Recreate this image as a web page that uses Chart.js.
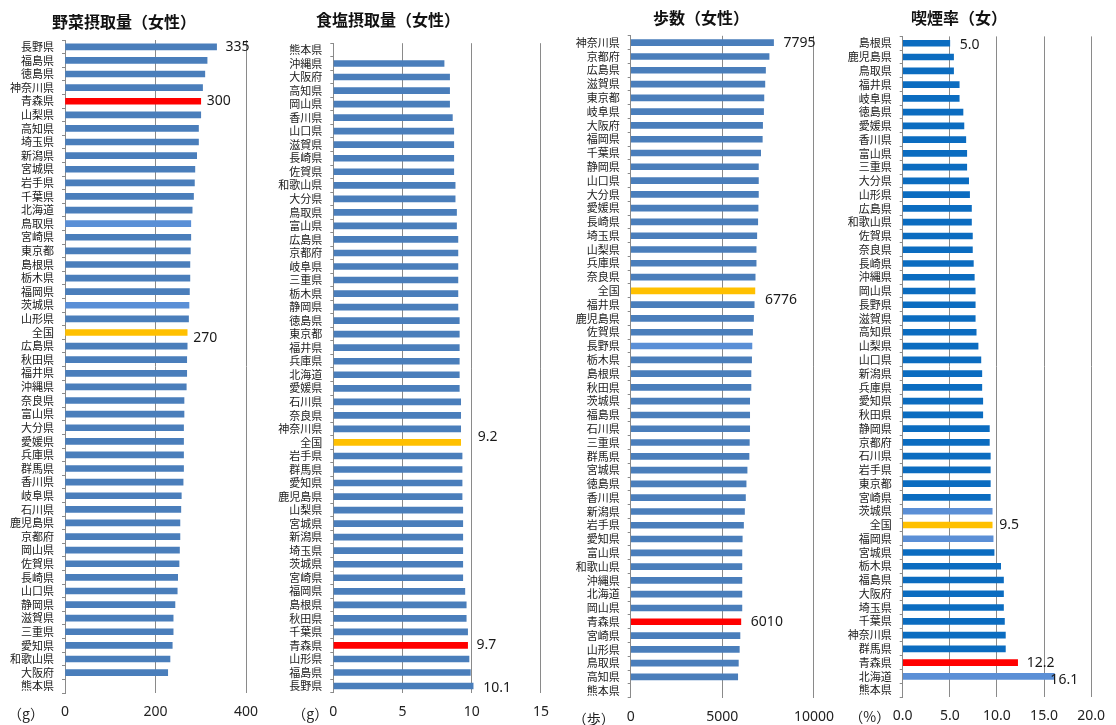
<!DOCTYPE html>
<html lang="ja">
<head>
<meta charset="utf-8">
<title>女性の健康指標 都道府県別</title>
<script src="https://cdn.jsdelivr.net/npm/chart.js@4"></script>
<style>
html, body { margin: 0; padding: 0; background: #fff; }
#wrap { position: relative; width: 1116px; height: 725px; overflow: hidden; background: #fff; }
#wrap canvas { position: absolute; top: 0; }
</style>
</head>
<body>
<div id="wrap">
  <canvas id="veg" width="275" height="725" style="left:0px"></canvas>
  <canvas id="salt" width="285" height="725" style="left:275px"></canvas>
  <canvas id="step" width="285" height="725" style="left:560px"></canvas>
  <canvas id="smoke" width="271" height="725" style="left:845px"></canvas>
</div>
<script>
// 野菜摂取量（女性, g/日）
const vegPrefs = ['長野県','福島県','徳島県','神奈川県','青森県','山梨県','高知県','埼玉県','新潟県','宮城県','岩手県','千葉県','北海道','鳥取県','宮崎県','東京都','島根県','栃木県','福岡県','茨城県','山形県','全国','広島県','秋田県','福井県','沖縄県','奈良県','富山県','大分県','愛媛県','兵庫県','群馬県','香川県','岐阜県','石川県','鹿児島県','京都府','岡山県','佐賀県','長崎県','山口県','静岡県','滋賀県','三重県','愛知県','和歌山県','大阪府','熊本県'];
const vegValues = [335,314,309,304,300,300,295,295,291,287,286,284,281,278,278,277,276,276,275,274,273,270,270,269,269,268,263,263,262,262,262,262,261,257,256,254,254,253,252,249,248,243,239,239,237,232,227,null];
const vegTicks = [0, 200, 400];

// 食塩摂取量（女性, g/日）
const saltPrefs = ['熊本県','沖縄県','大阪府','高知県','岡山県','香川県','山口県','滋賀県','長崎県','佐賀県','和歌山県','大分県','鳥取県','富山県','広島県','京都府','岐阜県','三重県','栃木県','静岡県','徳島県','東京都','福井県','兵庫県','北海道','愛媛県','石川県','奈良県','神奈川県','全国','岩手県','群馬県','愛知県','鹿児島県','山梨県','宮城県','新潟県','埼玉県','茨城県','宮崎県','福岡県','島根県','秋田県','千葉県','青森県','山形県','福島県','長野県'];
const saltValues = [null,8.0,8.4,8.4,8.4,8.6,8.7,8.7,8.7,8.7,8.8,8.8,8.9,8.9,9.0,9.0,9.0,9.0,9.0,9.0,9.1,9.1,9.1,9.1,9.1,9.1,9.2,9.2,9.2,9.2,9.3,9.3,9.3,9.3,9.35,9.35,9.35,9.35,9.35,9.35,9.5,9.6,9.6,9.7,9.7,9.8,9.9,10.1];
const saltTicks = [0, 5, 10, 15];

// 歩数（女性, 歩/日）
const stepPrefs = ['神奈川県','京都府','広島県','滋賀県','東京都','岐阜県','大阪府','福岡県','千葉県','静岡県','山口県','大分県','愛媛県','長崎県','埼玉県','山梨県','兵庫県','奈良県','全国','福井県','鹿児島県','佐賀県','長野県','栃木県','島根県','秋田県','茨城県','福島県','石川県','三重県','群馬県','宮城県','徳島県','香川県','新潟県','岩手県','愛知県','富山県','和歌山県','沖縄県','北海道','岡山県','青森県','宮崎県','山形県','鳥取県','高知県','熊本県'];
const stepValues = [7795,7550,7356,7321,7268,7250,7197,7180,7091,6968,6968,6968,6950,6932,6880,6844,6844,6791,6776,6738,6703,6650,6615,6597,6562,6562,6492,6492,6492,6474,6456,6350,6297,6262,6209,6156,6086,6068,6068,6068,6068,6068,6010,5962,5927,5874,5839,null];
const stepTicks = [0, 5000, 10000];

// 喫煙率（女, %）
const smokePrefs = ['島根県','鹿児島県','鳥取県','福井県','岐阜県','徳島県','愛媛県','香川県','富山県','三重県','大分県','山形県','広島県','和歌山県','佐賀県','奈良県','長崎県','沖縄県','岡山県','長野県','滋賀県','高知県','山梨県','山口県','新潟県','兵庫県','愛知県','秋田県','静岡県','京都府','石川県','岩手県','東京都','宮崎県','茨城県','全国','福岡県','宮城県','栃木県','福島県','大阪府','埼玉県','千葉県','神奈川県','群馬県','青森県','北海道','熊本県'];
const smokeValues = [5.0,5.4,5.4,6.0,6.0,6.4,6.5,6.7,6.8,6.8,7.0,7.1,7.3,7.3,7.4,7.4,7.5,7.6,7.7,7.7,7.7,7.8,8.0,8.3,8.4,8.4,8.5,8.5,9.2,9.2,9.3,9.3,9.3,9.3,9.5,9.5,9.6,9.7,10.4,10.7,10.7,10.7,10.8,10.9,10.9,12.2,16.1,null];
const smokeTicks = [0, 5, 10, 15, 20];

const CJK = '"Noto Sans CJK JP", "Noto Sans", sans-serif';
const LATIN = '"Noto Sans", "Liberation Sans", sans-serif';
const PAGE_H = 725;

// One horizontal bar panel per indicator
function makePanel(p) {
  const canvas = document.getElementById(p.id);
  const canvasLeft = parseFloat(canvas.style.left);

  const barColor = (name) => {
    if (name === '全国') return '#FFC000';
    if (name === '青森県') return '#FF0000';
    if (p.lightBars.includes(name)) return p.lightColor;
    return p.color;
  };

  const annotate = {
    id: 'annotate_' + p.id,
    afterDatasetsDraw(chart) {
      const ctx = chart.ctx;
      const meta = chart.getDatasetMeta(0);
      const values = chart.data.datasets[0].data;
      const area = chart.chartArea;
      ctx.save();
      // value tags next to the highlighted bars
      ctx.font = '14px ' + LATIN;
      ctx.fillStyle = '#1a1a1a';
      ctx.textAlign = 'left';
      ctx.textBaseline = 'middle';
      for (const tag of p.tags) {
        const i = chart.data.labels.indexOf(tag.name);
        const bar = meta.data[i];
        ctx.fillText(p.format(values[i]), bar.x + tag.dx, bar.y + tag.dy);
      }
      // panel title
      ctx.font = 'bold 16px ' + CJK;
      ctx.fillStyle = '#111';
      ctx.textAlign = 'center';
      ctx.fillText(p.title, p.titleX - canvasLeft, p.titleY);
      // unit under the axis
      ctx.font = '14px ' + CJK;
      ctx.fillStyle = '#222';
      ctx.fillText(p.unit, area.left + p.unitDx, area.bottom + p.unitDy);
      ctx.restore();
    }
  };

  return new Chart(canvas, {
    type: 'bar',
    data: {
      labels: p.labels,
      datasets: [{
        data: p.values,
        backgroundColor: (c) => barColor(p.labels[c.dataIndex]),
        borderWidth: 0,
        barThickness: 6
      }]
    },
    options: {
      indexAxis: 'y',
      responsive: false,
      animation: false,
      devicePixelRatio: 1,
      layout: { padding: { top: p.plotTop, right: p.padRight, bottom: 0, left: 0 } },
      plugins: { legend: { display: false }, tooltip: { enabled: false }, title: { display: false } },
      scales: {
        x: {
          type: 'linear',
          min: p.ticks[0],
          max: p.ticks[p.ticks.length - 1],
          afterBuildTicks: (s) => { s.ticks = p.ticks.map(v => ({ value: v })); },
          afterFit: (s) => { s.height = PAGE_H - p.plotBottom; },
          border: { display: false },
          grid: { color: '#8a8a8a', lineWidth: 1, drawTicks: false },
          ticks: {
            padding: 11,
            color: '#222',
            font: { family: LATIN, size: 14 },
            callback: (v) => p.tickFormat(v)
          }
        },
        y: {
          afterFit: (s) => { s.width = p.axisWidth; },
          border: { display: true, color: '#8a8a8a', width: 1 },
          grid: { drawOnChartArea: false, drawTicks: true, tickLength: 3, color: '#8a8a8a', offset: true },
          ticks: {
            autoSkip: false,
            padding: 8,
            color: '#1a1a1a',
            font: { family: CJK, size: 11 }
          }
        }
      }
    },
    plugins: [annotate]
  });
}

function drawAll() {
  makePanel({
    id: 'veg', title: '野菜摂取量（女性）', titleX: 124, titleY: 22,
    labels: vegPrefs, values: vegValues, ticks: vegTicks,
    plotTop: 40, plotBottom: 693, axisWidth: 65, padRight: 29,
    color: '#4A7EBB', lightColor: '#5A8FD6', lightBars: ['鳥取県', '茨城県'],
    format: (v) => String(Math.round(v)), tickFormat: (v) => String(v),
    unit: '（g）', unitDx: -39, unitDy: 21,
    tags: [{ name: '長野県', dx: 9, dy: 0 }, { name: '青森県', dx: 6, dy: 0 }, { name: '全国', dx: 6, dy: 6 }]
  });
  makePanel({
    id: 'salt', title: '食塩摂取量（女性）', titleX: 388, titleY: 20,
    labels: saltPrefs, values: saltValues, ticks: saltTicks,
    plotTop: 43.2, plotBottom: 692.8, axisWidth: 58.3, padRight: 13.3,
    color: '#4A7EBB', lightColor: '#5A8FD6', lightBars: [],
    format: (v) => v.toFixed(1), tickFormat: (v) => String(v),
    unit: '（g）', unitDx: -23, unitDy: 21,
    tags: [{ name: '全国', dx: 17, dy: -5 }, { name: '青森県', dx: 9, dy: 0 }, { name: '長野県', dx: 10, dy: 2 }]
  });
  makePanel({
    id: 'step', title: '歩数（女性）', titleX: 701, titleY: 18,
    labels: stepPrefs, values: stepValues, ticks: stepTicks,
    plotTop: 35.8, plotBottom: 697.6, axisWidth: 70.7, padRight: 25,
    color: '#4A7EBB', lightColor: '#5A8FD6', lightBars: ['長野県'],
    format: (v) => String(Math.round(v)), tickFormat: (v) => String(v),
    unit: '（歩）', unitDx: -37, unitDy: 21,
    tags: [{ name: '神奈川県', dx: 10, dy: 0 }, { name: '全国', dx: 10, dy: 9 }, { name: '青森県', dx: 10, dy: 0 }]
  });
  makePanel({
    id: 'smoke', title: '喫煙率（女）', titleX: 959, titleY: 18,
    labels: smokePrefs, values: smokeValues, ticks: smokeTicks,
    plotTop: 36.4, plotBottom: 697, axisWidth: 57.7, padRight: 17.3,
    color: '#0B6CC0', lightColor: '#5B8FD6', lightBars: ['茨城県', '福岡県', '北海道'],
    format: (v) => v.toFixed(1), tickFormat: (v) => v.toFixed(1),
    unit: '（%）', unitDx: -33, unitDy: 20,
    tags: [{ name: '島根県', dx: 10, dy: 1.5 }, { name: '全国', dx: 7, dy: 0 }, { name: '青森県', dx: 9, dy: 0 }, { name: '北海道', dx: -4, dy: 4 }]
  });
}

const fontReady = (document.fonts && document.fonts.load)
  ? Promise.all([
      document.fonts.load('11px "Noto Sans CJK JP"', '県'),
      document.fonts.load('bold 16px "Noto Sans CJK JP"', '野菜'),
      document.fonts.load('14px "Noto Sans"', '0')
    ]).catch(() => null)
  : Promise.resolve();
Promise.race([fontReady, new Promise(r => setTimeout(r, 1500))]).then(drawAll);
</script>
</body>
</html>
